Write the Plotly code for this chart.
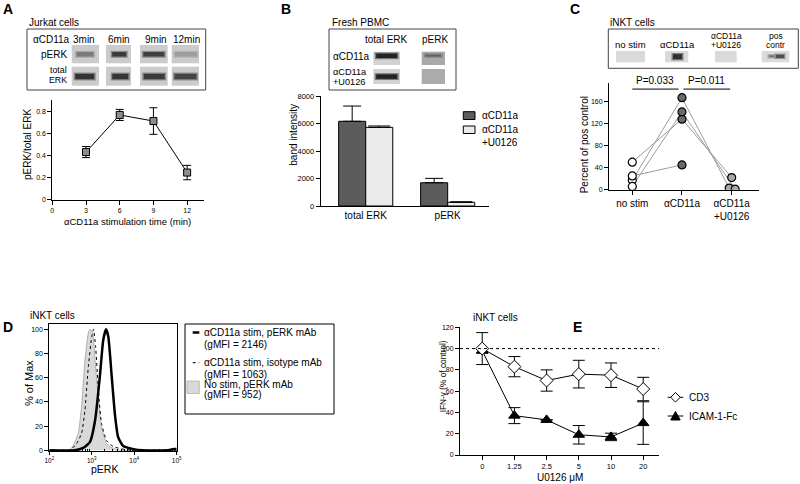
import plotly.graph_objects as go

W, H = 800, 484
FONT = "Arial, 'Liberation Sans', Helvetica, sans-serif"

# ---------------- data ----------------
# A: Jurkat cells, pERK/total ERK vs stimulation time
a_time = [3, 6, 9, 12]
a_ratio = [0.43, 0.765, 0.71, 0.245]
a_err = [0.05, 0.05, 0.12, 0.065]
a_xticks = [0, 3, 6, 9, 12]
a_yticks = [0, 0.2, 0.4, 0.6, 0.8]

# B: Fresh PBMC band intensity
b_groups = ["total ERK", "pERK"]
b_cd11a = [6160, 1690]
b_cd11a_err = [1110, 320]
b_u0126 = [5720, 270]
b_u0126_err = [100, 40]
b_yticks = [0, 2000, 4000, 6000, 8000]

# C: iNKT cells, percent of positive control (one list entry per donor)
c_conditions = ["no stim", "αCD11a", "αCD11a<br>+U0126"]
c_nostim = [50, 17, 6, 25]
c_cd11a = [128, 167, 141, 45]
c_u0126 = [22, 3, 1, None]
c_yticks = [0, 40, 80, 120, 160]
c_pvalues = ["P=0.033", "P=0.011"]

# D: flow histograms (pERK intensity, % of max)
d_stim_x = [100, 400, 630, 910, 1200, 1550, 1860, 2160, 2450, 2950, 3550, 4170, 5500, 9550, 15850, 60000, 79400, 100000]
d_stim_y = [0, 0, 2, 7, 25, 61, 91, 100, 94, 61, 28, 11, 3.5, 1, 0, 0, 1, 1]
d_iso_x = [100, 280, 330, 440, 575, 690, 830, 1000, 1100, 1230, 1450, 1700, 2240, 3240, 5500, 10000, 100000]
d_iso_y = [0, 0, 1, 5.5, 14, 33, 69, 94, 100, 86, 47, 22, 8, 3, 1, 0, 0]
d_nostim_x = [100, 300, 365, 480, 575, 690, 830, 910, 1050, 1200, 1450, 1700, 2240, 3240, 5000, 100000]
d_nostim_y = [0, 0, 4, 14, 36, 74, 97, 100, 97, 74, 41, 19, 5.5, 1.4, 0, 0]
d_xticks = [100, 1000, 10000, 100000]
d_xticktext = ["10<sup>2</sup>", "10<sup>3</sup>", "10<sup>4</sup>", "10<sup>5</sup>"]
d_yticks = [0, 20, 40, 60, 80, 100]

# E: IFN-gamma vs U0126 concentration
e_labels = ["0", "1.25", "2.5", "5", "10", "20"]
e_cd3 = [100, 83, 70, 76, 75, 62]
e_cd3_err = [15, 9.5, 10, 13, 11.5, 11]
e_icam = [98, 37, 33, 19, 17, 30]
e_icam_err = [2, 7.5, 0, 8.7, 3.5, 20]
e_yticks = [0, 20, 40, 60, 80, 100, 120]
e_reference = 100

# ---------------- helpers ----------------
def X(px):
    return px / W


def Y(py):
    return 1 - py / H


annotations = []
shapes = []


def txt(s, px, py, size=10, xanchor="left", yanchor="middle", bold=False, angle=0):
    annotations.append(dict(
        text=f"<b>{s}</b>" if bold else s, x=X(px), y=Y(py), xref="paper", yref="paper",
        xanchor=xanchor, yanchor=yanchor, showarrow=False, textangle=angle,
        font=dict(size=size, family=FONT, color="black"), borderpad=0))


def rect(x0, y0, x1, y1, fill, line=None, lw=1):
    shapes.append(dict(type="rect", xref="paper", yref="paper",
                       x0=X(x0), x1=X(x1), y0=Y(y1), y1=Y(y0),
                       fillcolor=fill, line=dict(color=line or fill, width=lw if line else 0)))


def pline(x0, y0, x1, y1, color="black", width=1, dash="solid"):
    shapes.append(dict(type="line", xref="paper", yref="paper",
                       x0=X(x0), x1=X(x1), y0=Y(y0), y1=Y(y1),
                       line=dict(color=color, width=width, dash=dash)))


def poly(points, fill, line="black"):
    p = "M " + " L ".join(f"{X(a):.5f},{Y(b):.5f}" for a, b in points) + " Z"
    shapes.append(dict(type="path", xref="paper", yref="paper", path=p,
                       fillcolor=fill, line=dict(color=line, width=1)))


def band(cx, cy, w, h, color, halo):
    rect(cx - w / 2 - 1.5, cy - h / 2 - 1.2, cx + w / 2 + 1.5, cy + h / 2 + 1.2, halo)
    rect(cx - w / 2, cy - h / 2, cx + w / 2, cy + h / 2, color)


def ax(domain, rng, **kw):
    d = dict(domain=domain, range=rng, showline=True, linecolor="black", linewidth=1,
             ticks="outside", ticklen=4, tickwidth=1, tickcolor="black",
             showgrid=False, zeroline=False, fixedrange=True, automargin=False,
             tickfont=dict(size=7, family=FONT, color="black"))
    d.update(kw)
    return d


fig = go.Figure()

# ---------------- Panel A ----------------
fig.add_trace(go.Scatter(
    x=a_time, y=a_ratio, mode="lines+markers", xaxis="x", yaxis="y",
    line=dict(color="black", width=1),
    marker=dict(symbol="square", size=7, color="#8e8e8e", line=dict(color="black", width=1)),
    error_y=dict(type="data", array=a_err, color="black", thickness=1, width=4)))

# ---------------- Panel B ----------------
b_pos = list(range(len(b_groups)))
fig.add_trace(go.Bar(
    x=b_pos, y=b_cd11a, width=0.33, offset=-0.33, xaxis="x2", yaxis="y2",
    marker=dict(color="#5c5c5c", line=dict(color="black", width=1)),
    error_y=dict(type="data", symmetric=False, array=b_cd11a_err, arrayminus=[0] * len(b_pos),
                 color="black", thickness=1, width=9)))
fig.add_trace(go.Bar(
    x=b_pos, y=b_u0126, width=0.33, offset=0, xaxis="x2", yaxis="y2",
    marker=dict(color="#ebebeb", line=dict(color="black", width=1)),
    error_y=dict(type="data", symmetric=False, array=b_u0126_err, arrayminus=[0] * len(b_pos),
                 color="black", thickness=1, width=11)))

# ---------------- Panel C ----------------
c_jitter = [0, -0.05, 0.07, 0]
for i in range(len(c_nostim)):
    fig.add_trace(go.Scatter(
        x=[0, 1, 2 + c_jitter[i]], y=[c_nostim[i], c_cd11a[i], c_u0126[i]],
        mode="lines", xaxis="x3", yaxis="y3", line=dict(color="#9c9c9c", width=1)))
fig.add_trace(go.Scatter(
    x=[0] * len(c_nostim), y=c_nostim, mode="markers", xaxis="x3", yaxis="y3",
    marker=dict(symbol="circle", size=8, color="white", line=dict(color="black", width=1.2))))
fig.add_trace(go.Scatter(
    x=[1] * len(c_cd11a), y=c_cd11a, mode="markers", xaxis="x3", yaxis="y3",
    marker=dict(symbol="circle", size=8, color="#6a6a6a", line=dict(color="black", width=1.2))))
fig.add_trace(go.Scatter(
    x=[2 + j for j in c_jitter], y=c_u0126, mode="markers", xaxis="x3", yaxis="y3",
    marker=dict(symbol="circle", size=8, color="#a8a8a8", line=dict(color="black", width=1.2))))
c_ptop = 182.5
shapes.append(dict(type="line", xref="x3", yref="y3", x0=0, x1=0.93, y0=c_ptop, y1=c_ptop,
                   line=dict(color="black", width=1)))
shapes.append(dict(type="line", xref="x3", yref="y3", x0=1.03, x1=1.97, y0=c_ptop, y1=c_ptop,
                   line=dict(color="black", width=1)))
for xc, s in zip([0.46, 1.5], c_pvalues):
    annotations.append(dict(text=s, x=xc, y=c_ptop, xref="x3", yref="y3", yanchor="bottom",
                            yshift=1, showarrow=False, font=dict(size=10, family=FONT, color="black")))

# ---------------- Panel D ----------------
fig.add_trace(go.Scatter(
    x=d_nostim_x, y=d_nostim_y, mode="lines", fill="tozeroy", fillcolor="#d9d9d9",
    line=dict(color="#a0a0a0", width=0.8, shape="spline", smoothing=0.5), xaxis="x4", yaxis="y4"))
fig.add_trace(go.Scatter(
    x=d_iso_x, y=d_iso_y, mode="lines",
    line=dict(color="black", width=1, dash="dot", shape="spline", smoothing=0.5), xaxis="x4", yaxis="y4"))
fig.add_trace(go.Scatter(
    x=d_stim_x, y=d_stim_y, mode="lines",
    line=dict(color="black", width=2.5, shape="spline", smoothing=0.5), xaxis="x4", yaxis="y4"))

# ---------------- Panel E ----------------
e_pos = list(range(len(e_labels)))
shapes.append(dict(type="line", xref="x5", yref="y5", x0=-0.69, x1=5.5, y0=e_reference, y1=e_reference,
                   line=dict(color="black", width=1, dash="dot")))
fig.add_trace(go.Scatter(
    x=e_pos, y=e_icam, mode="lines+markers", xaxis="x5", yaxis="y5",
    line=dict(color="black", width=1),
    marker=dict(symbol="triangle-up", size=10, color="black", line=dict(color="black", width=1)),
    error_y=dict(type="data", array=e_icam_err, color="black", thickness=1, width=6)))
fig.add_trace(go.Scatter(
    x=e_pos, y=e_cd3, mode="lines+markers", xaxis="x5", yaxis="y5",
    line=dict(color="black", width=1),
    marker=dict(symbol="diamond", size=10, color="white", line=dict(color="black", width=1)),
    error_y=dict(type="data", array=e_cd3_err, color="black", thickness=1, width=6)))

# ---------------- blots (decoration) ----------------
# A
txt("Jurkat cells", 28, 22.7)
rect(27, 29, 205.7, 90, "rgba(0,0,0,0)", line="#444", lw=1)
txt("αCD11a", 31.5, 39)
for cx, s in zip([84.3, 119.3, 156, 186], ["3min", "6min", "9min", "12min"]):
    txt(s, cx, 39, xanchor="center")
txt("pERK", 68.3, 54.3, xanchor="right")
txt("total", 68.3, 70.3, size=8.8, xanchor="right")
txt("ERK", 68.3, 79.9, size=8.8, xanchor="right")
a_cols = [(71.7, 99), (106, 131), (140, 167.7), (171.7, 199)]
for x0, x1 in a_cols:
    rect(x0, 45, x1, 63.3, "#cbcbcb")
    rect(x0, 66.7, x1, 85.7, "#cbcbcb")
for (cx, w, col, halo) in [(85, 17, "#7a7a7a", "#a9a9a9"), (119.2, 14, "#3a3a3a", "#8a8a8a"),
                           (153.8, 21, "#3f3f3f", "#8e8e8e"), (185.8, 22, "#9e9e9e", "#b5b5b5")]:
    band(cx, 54.3, w, 4.5, col, halo)
for (cx, w, col, halo) in [(84.7, 19, "#333333", "#888888"), (120.3, 16, "#353535", "#888888"),
                           (154.2, 21, "#3a3a3a", "#8a8a8a"), (185.5, 22, "#444444", "#8e8e8e")]:
    band(cx, 76.5, w, 5.5, col, halo)

# B
txt("Fresh PBMC", 331, 22.7)
rect(329, 29, 456, 90, "rgba(0,0,0,0)", line="#444", lw=1)
txt("total ERK", 386.7, 39, xanchor="center")
txt("pERK", 435, 39, xanchor="center")
txt("αCD11a", 331.5, 56.7)
txt("αCD11a", 331.5, 71.7, size=9.2)
txt("+U0126", 331.5, 81.9, size=9.2)
rect(373.3, 51.7, 400, 65, "#d2d2d2")
rect(373.3, 69, 400, 84, "#d2d2d2")
rect(421.7, 51.7, 445, 65, "#a9a9a9")
rect(421.7, 69, 445, 84, "#ababab")
band(386.7, 55.8, 21, 4.5, "#222222", "#7a7a7a")
band(386.7, 76.6, 21, 4.5, "#222222", "#7a7a7a")
band(433.3, 55.6, 16, 2.2, "#666666", "#8c8c8c")

# C
txt("iNKT cells", 609, 22.7)
rect(608.3, 29, 798.3, 68.3, "rgba(0,0,0,0)", line="#444", lw=1)
txt("no stim", 630, 45, size=9.5, xanchor="center")
txt("αCD11a", 677.3, 45, size=9.5, xanchor="center")
txt("αCD11a", 726, 36.3, size=8.5, xanchor="center")
txt("+U0126", 726, 44.8, size=8.5, xanchor="center")
txt("pos", 775.7, 36.3, size=8.5, xanchor="center")
txt("contr", 775.7, 44.8, size=8.5, xanchor="center")
for x0, x1 in [(616, 645), (665, 688.3), (715, 736.7), (761.7, 789.3)]:
    rect(x0, 51, x1, 62.3, "#dadada")
band(677.5, 56.7, 9, 5, "#2e2e2e", "#7e7e7e")
band(772, 56.3, 6, 2, "#777777", "#a8a8a8")
band(780, 56.3, 8, 3, "#4a4a4a", "#8e8e8e")

# ---------------- legends (decoration) ----------------
# B legend
rect(463.3, 111.7, 475, 119.5, "#5c5c5c", line="black", lw=1)
rect(463.3, 126, 475, 133.5, "#ebebeb", line="black", lw=1)
txt("αCD11a", 480.7, 115.5)
txt("αCD11a", 480.7, 129.5)
txt("+U0126", 480.7, 143)

# D legend
rect(185, 324, 334, 414, "rgba(0,0,0,0)", line="black", lw=1)
pline(192.7, 332.5, 199.3, 332.5, width=2.5)
txt("αCD11a stim, pERK mAb", 203, 332.3)
txt("(gMFI = 2146)", 203, 344)
pline(192.7, 362.7, 199.3, 362.7, width=1, dash="dot")
txt("αCD11a stim, isotype mAb", 203, 362.7)
txt("(gMFI = 1063)", 203, 374.3)
rect(187, 381, 199.3, 393.5, "#d9d9d9", line="#b0b0b0", lw=0.8)
txt("No stim, pERK mAb", 203, 384.3)
txt("(gMFI = 952)", 203, 394.8)

# E legend
pline(667.7, 397.3, 683.3, 397.3)
poly([(675.5, 392.5), (680.3, 397.3), (675.5, 402.1), (670.7, 397.3)], "white")
txt("CD3", 688, 397.3)
pline(667.7, 416, 683.3, 416)
poly([(670.8, 420), (680.2, 420), (675.5, 411.5)], "black")
txt("ICAM-1-Fc", 688, 416)

# ---------------- titles / labels ----------------
txt("A", 7.5, 8.5, size=14, xanchor="center", bold=True)
txt("B", 286, 8.7, size=14, xanchor="center", bold=True)
txt("C", 575, 8.7, size=14, xanchor="center", bold=True)
txt("D", 7.5, 327, size=14, xanchor="center", bold=True)
txt("E", 577, 327, size=14, xanchor="center", bold=True)

txt("pERK/total ERK", 27, 145, size=10, xanchor="center", angle=-90)
txt("αCD11a stimulation time (min)", 127.5, 221, size=9.5, xanchor="center")
txt("band intensity", 292.7, 135, size=10, xanchor="center", angle=-90)
txt("Percent of pos control", 584.3, 145, size=10, xanchor="center", angle=-90)
txt("iNKT cells", 29, 315)
txt("% of Max", 29, 383, size=11, xanchor="center", angle=-90)
txt("pERK", 104.5, 469, size=10.5, xanchor="center")
txt("iNKT cells", 472, 317)
txt("IFN-γ (% of control)", 443.3, 376, size=8.3, xanchor="center", angle=-90)
txt("U0126 μM", 560, 477.5, size=10, xanchor="center")

# ---------------- layout ----------------
cat_font = dict(size=10, family=FONT, color="black")
fig.update_layout(
    width=W, height=H, margin=dict(l=0, r=0, t=0, b=0, pad=0, autoexpand=False),
    paper_bgcolor="white", plot_bgcolor="white", showlegend=False,
    font=dict(family=FONT, color="black"),
    xaxis=ax([X(52.3), X(204)], [0, 13.5], tickvals=a_xticks, anchor="y"),
    yaxis=ax([Y(199.7), Y(100)], [0, 0.9], tickvals=a_yticks, anchor="x"),
    xaxis2=ax([X(320.7), X(489)], [-0.549, 1.504], tickvals=b_pos, ticktext=b_groups,
              ticks="", tickfont=cat_font, anchor="y2"),
    yaxis2=ax([Y(206), Y(96)], [0, 8000], tickvals=b_yticks, anchor="x2",
              tickfont=dict(size=7.5, family=FONT, color="black")),
    xaxis3=ax([X(609), X(759)], [-0.469, 2.55], tickvals=[0, 1, 2], ticktext=c_conditions,
              tickfont=cat_font, anchor="y3"),
    yaxis3=ax([Y(189.7), Y(83.3)], [0, 193], tickvals=c_yticks, anchor="x3"),
    xaxis4=ax([X(49.3), X(176.7)], [2, 5], type="log", tickvals=d_xticks, ticktext=d_xticktext,
              mirror=True, ticklen=3, anchor="y4",
              tickfont=dict(size=6.5, family=FONT, color="black"),
              minor=dict(tickvals=[k * 10 ** e for e in (2, 3, 4) for k in range(2, 10)],
                         ticks="inside", ticklen=2, tickcolor="black")),
    yaxis4=ax([Y(451.3), Y(324)], [-0.8, 104.4], tickvals=d_yticks, mirror=True, anchor="x4"),
    xaxis5=ax([X(460), X(659.3)], [-0.69, 5.5], tickvals=e_pos, ticktext=e_labels,
              tickfont=dict(size=7.5, family=FONT, color="black"), anchor="y5"),
    yaxis5=ax([Y(455), Y(327.3)], [0, 120], tickvals=e_yticks, anchor="x5"),
    shapes=shapes, annotations=annotations,
)

fig.write_html("out.html", config={"displayModeBar": False, "staticPlot": True},
               post_script="document.body.style.margin='0';document.body.style.overflow='hidden';")
